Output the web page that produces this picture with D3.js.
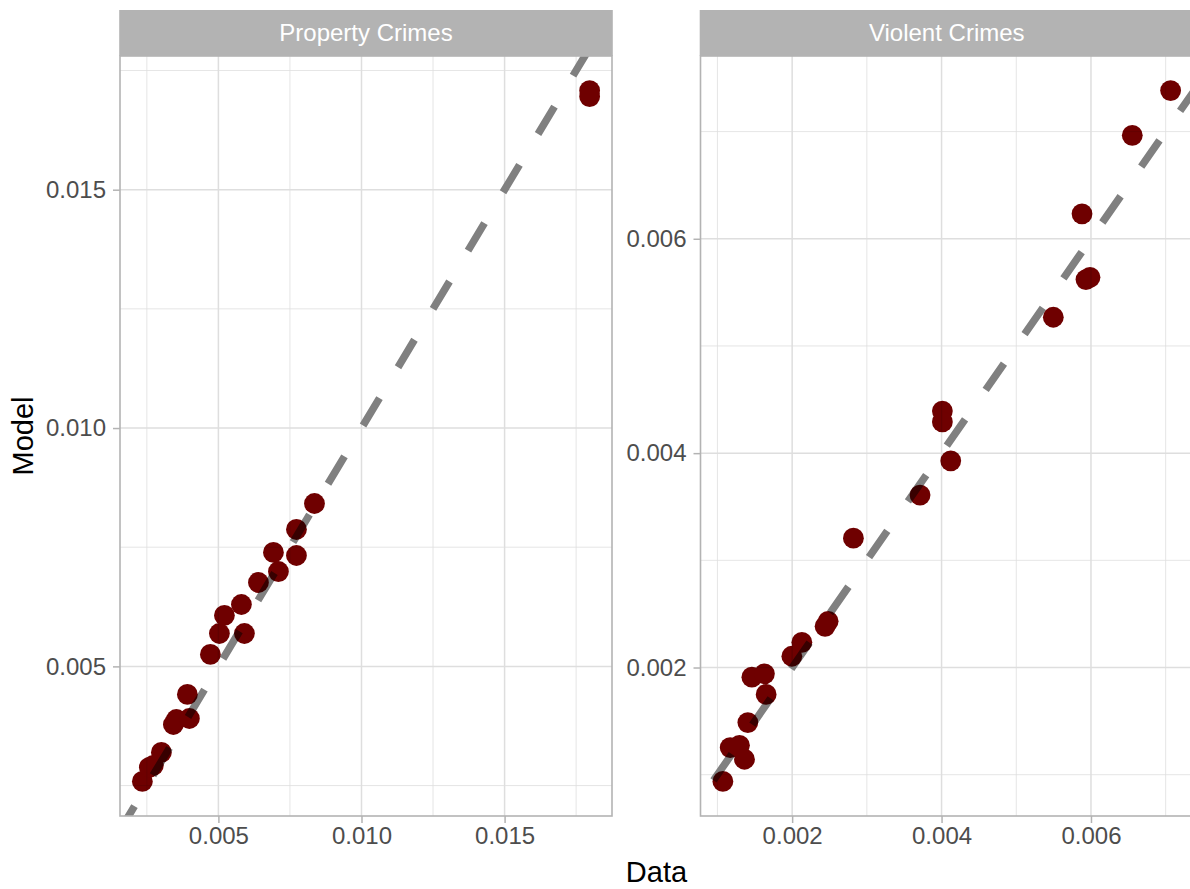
<!DOCTYPE html>
<html>
<head>
<meta charset="utf-8">
<script src="https://cdn.jsdelivr.net/npm/d3@7"></script>
<style>
  body { margin: 0; background: #ffffff; }
  text { font-family: "Liberation Sans", Arial, Helvetica, sans-serif; }
</style>
</head>
<body>
<svg id="chart" width="1190" height="889"></svg>
<script>
// Observed crime rates (Data) against fitted rates (Model), one facet per crime type
const panelTitles = ["Property Crimes", "Violent Crimes"];

const propertyData = [0.002343, 0.002587, 0.002727, 0.003007, 0.003427, 0.003531, 0.003986,
  0.003916, 0.004720, 0.005035, 0.005909, 0.005210, 0.005804, 0.006399, 0.007098, 0.007727,
  0.006923, 0.007727, 0.008357, 0.017972, 0.017972];
const propertyModel = [0.002586, 0.002880, 0.002922, 0.003194, 0.003781, 0.003886, 0.003907,
  0.004411, 0.005250, 0.005690, 0.005690, 0.006068, 0.006298, 0.006760, 0.006990, 0.007326,
  0.007390, 0.007872, 0.008417, 0.017080, 0.016953];

const violentData = [0.001073, 0.001171, 0.001295, 0.001362, 0.001407, 0.001652, 0.001461,
  0.001629, 0.001996, 0.002130, 0.002441, 0.002482, 0.002820, 0.003712, 0.004011, 0.004011,
  0.004123, 0.005496, 0.005880, 0.005933, 0.005987, 0.006553, 0.007066];
const violentModel = [0.000937, 0.001253, 0.001274, 0.001144, 0.001486, 0.001749, 0.001910,
  0.001941, 0.002105, 0.002235, 0.002384, 0.002431, 0.003207, 0.003609, 0.004393, 0.004291,
  0.003928, 0.005268, 0.006233, 0.005619, 0.005640, 0.006965, 0.007383];

const propertyTicks = [0.005, 0.010, 0.015];
const violentTicks = [0.002, 0.004, 0.006];

const xTitle = "Data";
const yTitle = "Model";

const W = 1190, H = 889;
const panelTop = 56, panelBottom = 816, stripTop = 10;
const panelBoxes = [{ left: 120, right: 612 }, { left: 700.5, right: 1193 }];

const panels = [
  { title: panelTitles[0], xs: propertyData, ys: propertyModel, ticks: propertyTicks, box: panelBoxes[0] },
  { title: panelTitles[1], xs: violentData, ys: violentModel, ticks: violentTicks, box: panelBoxes[1] }
];

const svg = d3.select("#chart");
svg.append("rect").attr("width", W).attr("height", H).attr("fill", "#ffffff");

// 5% padding on each side of the data range
function expand(values) {
  const [lo, hi] = d3.extent(values);
  const pad = (hi - lo) * 0.05;
  return [lo - pad, hi + pad];
}

// minor breaks sit halfway between the major ones
function minorBreaks(ticks, domain) {
  const step = ticks[1] - ticks[0];
  const out = [];
  for (let v = ticks[0] - step / 2; v <= domain[1]; v += step) {
    if (v >= domain[0]) out.push(v);
  }
  return out;
}

const fmt = d3.format(".3f");

panels.forEach((p, i) => {
  const xd = expand(p.xs), yd = expand(p.ys);
  const x = d3.scaleLinear().domain(xd).range([p.box.left, p.box.right]);
  const y = d3.scaleLinear().domain(yd).range([panelBottom, panelTop]);
  const g = svg.append("g");

  const clipId = "clip" + i;
  g.append("clipPath").attr("id", clipId)
    .append("rect")
    .attr("x", p.box.left).attr("y", panelTop)
    .attr("width", p.box.right - p.box.left).attr("height", panelBottom - panelTop);

  const body = g.append("g").attr("clip-path", `url(#${clipId})`);

  // grid
  const xMinor = minorBreaks(p.ticks, xd), yMinor = minorBreaks(p.ticks, yd);
  body.selectAll(".vminor").data(xMinor).join("line")
    .attr("x1", d => x(d)).attr("x2", d => x(d))
    .attr("y1", panelTop).attr("y2", panelBottom)
    .attr("stroke", "#dedede").attr("stroke-width", 0.8);
  body.selectAll(".hminor").data(yMinor).join("line")
    .attr("y1", d => y(d)).attr("y2", d => y(d))
    .attr("x1", p.box.left).attr("x2", p.box.right)
    .attr("stroke", "#dedede").attr("stroke-width", 0.8);
  body.selectAll(".vmajor").data(p.ticks.filter(t => t >= xd[0] && t <= xd[1])).join("line")
    .attr("x1", d => x(d)).attr("x2", d => x(d))
    .attr("y1", panelTop).attr("y2", panelBottom)
    .attr("stroke", "#dedede").attr("stroke-width", 1.5);
  body.selectAll(".hmajor").data(p.ticks.filter(t => t >= yd[0] && t <= yd[1])).join("line")
    .attr("y1", d => y(d)).attr("y2", d => y(d))
    .attr("x1", p.box.left).attr("x2", p.box.right)
    .attr("stroke", "#dedede").attr("stroke-width", 1.5);

  // identity reference line, extended well past the panel and clipped
  const span = xd[1] - xd[0];
  const lineX = [xd[0] - span, xd[1] + span];
  body.append("path")
    .datum(lineX)
    .attr("d", d3.line().x(v => x(v)).y(v => y(v)))
    .attr("fill", "none")
    .attr("stroke", "#808080")
    .attr("stroke-width", 7.5)
    .attr("stroke-dasharray", "32,36");

  // points
  const pts = body.append("g").style("mix-blend-mode", "multiply");
  pts.selectAll("circle").data(p.xs.map((v, k) => [v, p.ys[k]])).join("circle")
    .attr("cx", d => x(d[0])).attr("cy", d => y(d[1]))
    .attr("r", 10.4)
    .attr("fill", "#6f0000");

  // panel border
  g.append("rect")
    .attr("x", p.box.left).attr("y", panelTop)
    .attr("width", p.box.right - p.box.left).attr("height", panelBottom - panelTop)
    .attr("fill", "none").attr("stroke", "#b3b3b3").attr("stroke-width", 1.6);

  // strip
  g.append("rect")
    .attr("x", p.box.left - 0.8).attr("y", stripTop)
    .attr("width", p.box.right - p.box.left + 1.6).attr("height", panelTop - stripTop)
    .attr("fill", "#b3b3b3");
  g.append("text")
    .attr("x", (p.box.left + p.box.right) / 2).attr("y", (stripTop + panelTop) / 2)
    .attr("dy", "0.35em").attr("text-anchor", "middle")
    .attr("fill", "#ffffff").attr("font-size", 24)
    .text(p.title);

  // axes
  const xAxis = g.append("g").attr("transform", `translate(0,${panelBottom})`)
    .call(d3.axisBottom(x).tickValues(p.ticks).tickFormat(fmt).tickSize(7).tickPadding(4));
  const yAxis = g.append("g").attr("transform", `translate(${p.box.left},0)`)
    .call(d3.axisLeft(y).tickValues(p.ticks).tickFormat(fmt).tickSize(7).tickPadding(7));
  [xAxis, yAxis].forEach(a => {
    a.select(".domain").remove();
    a.selectAll(".tick line").attr("stroke", "#b3b3b3").attr("stroke-width", 1.5);
    a.selectAll(".tick text").attr("fill", "#4d4d4d").attr("font-size", 24)
      .attr("font-family", "'Liberation Sans', Arial, sans-serif");
  });
});

// axis titles
svg.append("text")
  .attr("x", (panelBoxes[0].left + panelBoxes[1].right) / 2).attr("y", 882)
  .attr("text-anchor", "middle").attr("font-size", 29).attr("fill", "#000000")
  .text(xTitle);
svg.append("text")
  .attr("transform", `translate(33,${(panelTop + panelBottom) / 2}) rotate(-90)`)
  .attr("text-anchor", "middle").attr("font-size", 29).attr("fill", "#000000")
  .text(yTitle);
</script>
</body>
</html>
